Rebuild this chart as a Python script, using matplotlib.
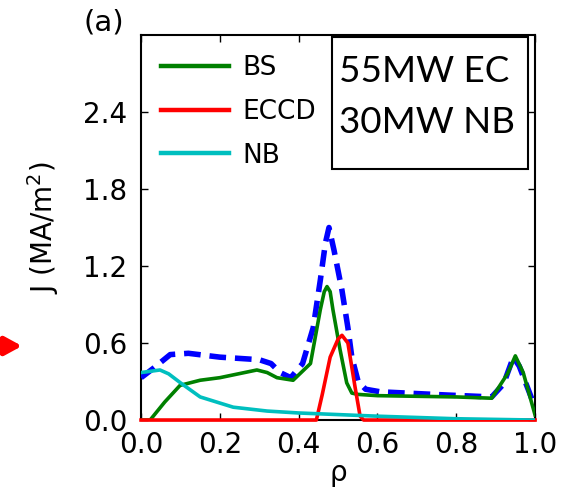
import numpy as np
import matplotlib
matplotlib.use("Agg")
import matplotlib.pyplot as plt
from matplotlib.patches import Rectangle

# Current density profiles vs normalised radius
rho_tot = [0.0, 0.03, 0.074, 0.12, 0.2, 0.3, 0.33, 0.353, 0.38, 0.41, 0.437,
           0.455, 0.468, 0.477, 0.49, 0.51, 0.525, 0.535, 0.551, 0.57, 0.607,
           0.776, 0.89, 0.92, 0.945, 0.96, 0.98, 1.0]
j_tot = [0.33, 0.40, 0.51, 0.52, 0.49, 0.47, 0.44, 0.37, 0.33, 0.44, 0.72,
         1.09, 1.38, 1.50, 1.32, 1.01, 0.72, 0.49, 0.30, 0.24, 0.22,
         0.195, 0.18, 0.28, 0.49, 0.42, 0.26, 0.10]

rho_bs = [0.0, 0.023, 0.06, 0.099, 0.15, 0.2, 0.294, 0.32, 0.345, 0.386,
          0.43, 0.455, 0.465, 0.472, 0.48, 0.487, 0.505, 0.522, 0.535, 0.55,
          0.6, 0.8, 0.89, 0.93, 0.95, 0.97, 1.0]
j_bs = [0.0, 0.0, 0.14, 0.27, 0.31, 0.33, 0.39, 0.37, 0.33, 0.31,
        0.44, 0.86, 1.0, 1.04, 1.0, 0.86, 0.55, 0.29, 0.21, 0.2,
        0.19, 0.18, 0.17, 0.36, 0.50, 0.37, 0.04]

rho_ec = [0.0, 0.445, 0.46, 0.48, 0.5, 0.51, 0.525, 0.543, 0.556, 0.565, 1.0]
j_ec = [0.0, 0.0, 0.2, 0.49, 0.63, 0.66, 0.60, 0.26, 0.03, 0.0, 0.0]

rho_nb = [0.0, 0.048, 0.07, 0.1, 0.15, 0.234, 0.32, 0.4, 0.6, 0.8, 1.0]
j_nb = [0.37, 0.39, 0.36, 0.29, 0.18, 0.10, 0.07, 0.055, 0.03, 0.01, 0.0]

yticks = [0.0, 0.6, 1.2, 1.8, 2.4]
xticks = [0.0, 0.2, 0.4, 0.6, 0.8, 1.0]

fig = plt.figure(figsize=(5.62, 4.93), dpi=100)
ax = fig.add_axes([0.251, 0.148, 0.701, 0.781])

ax.plot(rho_tot, j_tot, color="b", lw=4, ls=(0, (3, 1.6)), zorder=3)
ax.plot(rho_bs, j_bs, color="g", lw=2.6, label="BS", zorder=3)
ax.plot(rho_ec, j_ec, color="r", lw=2.6, label="ECCD", zorder=3,
        clip_on=False)
ax.plot(rho_nb, j_nb, color="c", lw=2.6, label="NB", zorder=3)

ax.set_xlim(0, 1.0)
ax.set_ylim(0, 3.0)
ax.set_xticks(xticks)
ax.set_yticks(yticks)
ax.tick_params(direction="in", top=True, right=True, length=5, width=1,
               labelsize=20)
ax.tick_params(axis="x", pad=8)
ax.tick_params(axis="y", pad=10)
for sp in ax.spines.values():
    sp.set_linewidth(1.5)

ax.set_xlabel("ρ", fontsize=20, labelpad=0)
ax.set_ylabel(r"J (MA/m$^2$)", fontsize=20, labelpad=16)

leg = ax.legend(loc="upper left", frameon=False, handlelength=2.6,
                handletextpad=0.5, labelspacing=0.68, borderaxespad=0.35,
                prop={"family": "DejaVu Sans", "size": 19})
for line in leg.get_lines():
    line.set_linewidth(3.2)

# scenario box
ax.add_patch(Rectangle((0.485, 0.652), 0.497, 0.343, transform=ax.transAxes,
                       facecolor="white", edgecolor="black", lw=1.5, zorder=5))
ax.text(0.503, 0.904, "55MW EC", transform=ax.transAxes, family="Lato",
        fontsize=26.5, va="center", ha="left", zorder=6)
ax.text(0.503, 0.774, "30MW NB", transform=ax.transAxes, family="Lato",
        fontsize=26.5, va="center", ha="left", zorder=6)

fig.text(0.184, 0.955, "(a)", fontsize=21, ha="center", va="center")

# red marker arrow at the 0.6 level
ax.annotate("", xy=(22, 147), xytext=(0, 147), xycoords="figure pixels",
            textcoords="figure pixels", annotation_clip=False,
            arrowprops=dict(arrowstyle="-|>,head_length=0.55,head_width=0.3",
                            color="red", lw=4, mutation_scale=18,
                            shrinkA=0, shrinkB=0))

fig.savefig("out.png", dpi=100)
